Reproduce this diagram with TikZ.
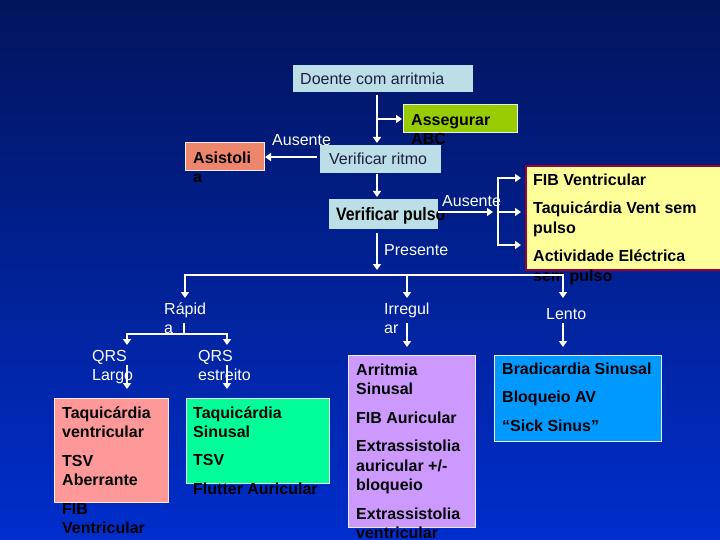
\documentclass[tikz,border=0pt]{standalone}
\usepackage{fontspec}
\usepackage{graphicx}
\setmainfont{Liberation Sans}
\usetikzlibrary{arrows.meta}
\definecolor{bgtop}{RGB}{2,20,92}
\definecolor{bgbot}{RGB}{0,46,204}
\definecolor{lblue}{RGB}{188,222,230}
\definecolor{abcgreen}{RGB}{153,204,0}
\definecolor{salmon}{RGB}{238,134,108}
\definecolor{yel}{RGB}{255,255,153}
\definecolor{yelborder}{RGB}{153,0,51}
\definecolor{pinkfill}{RGB}{255,153,153}
\definecolor{mintfill}{RGB}{0,255,153}
\definecolor{lilacfill}{RGB}{204,153,255}
\definecolor{skyfill}{RGB}{0,153,255}
\definecolor{darktext}{RGB}{30,30,64}
\newcommand{\topstrut}{\rule{0pt}{16pt}}
\begin{document}
\begin{tikzpicture}[x=1pt,y=-1pt,
  boxshape/.style={rectangle, anchor=north west, inner sep=0pt, outer sep=0pt},
  lbox/.style={boxshape, fill=lblue},
  cbox/.style={boxshape, draw=white!85!gray, line width=1pt},
  btext/.style={anchor=north west, inner sep=0pt, align=left, text=black, font=\bfseries\fontsize{16}{19.5}\selectfont},
  wlabel/.style={anchor=north west, inner sep=0pt, align=left, text=white, font=\fontsize{16}{19}\selectfont},
  rtext/.style={anchor=base west, inner sep=0pt, text=darktext, font=\fontsize{16}{19}\selectfont},
  conn/.style={draw=white, line width=2.5pt},
  arr/.style={conn, -{Triangle[length=6pt,width=8pt]}},
  arrs/.style={conn, {Triangle[length=6pt,width=8pt]}-{Triangle[length=6pt,width=8pt]}},
]
\shade[top color=bgtop, bottom color=bgbot] (0,0) rectangle (720,540);
\path[use as bounding box] (0,0) rectangle (720,540);

% top boxes
\node[lbox, minimum width=180pt, minimum height=27pt] (doente) at (293,65) {};
\node[rtext] (tdoente) at (300,85) {Doente com arritmia};

\node[cbox, fill=abcgreen, minimum width=114pt, minimum height=28pt] (abc) at (403,105) {};
\node[btext] (tabc) at (411,109) {\topstrut Assegurar\\ABC};

\node[cbox, fill=salmon, minimum width=79pt, minimum height=28pt] (asis) at (185,143) {};
\node[btext] (tasis) at (193,147) {\topstrut Asistoli\\a};

\node[lbox, minimum width=121pt, minimum height=28pt] (ritmo) at (320,145) {};
\node[rtext] (tritmo) at (329,165) {Verificar ritmo};

\node[lbox, minimum width=109pt, minimum height=30pt] (pulso) at (329,199) {};
\node[anchor=base west, inner sep=0pt, text=black, font=\bfseries\fontsize{18}{20}\selectfont] (tpulso) at (336,221) {\scalebox{0.88}[1]{Verificar pulso}};

\node[boxshape, fill=yel, draw=yelborder, line width=1.5pt, minimum width=200pt, minimum height=104pt] (yellow) at (526,166) {};
\node[btext] (tyellow) at (533,169) {\topstrut FIB Ventricular\\[9pt]Taquicárdia Vent sem\\pulso\\[9pt]Actividade Eléctrica\\sem pulso};

% labels
\node[wlabel] (aus1) at (272,129) {\topstrut Ausente};
\node[wlabel] (aus2) at (442,190) {\topstrut Ausente};
\node[wlabel] (pres) at (384,239) {\topstrut Presente};
\node[wlabel] (rapid) at (164,298) {\topstrut Rápid\\a};
\node[wlabel] (irr) at (384,298) {\topstrut Irregul\\ar};
\node[wlabel] (lento) at (546,303) {\topstrut Lento};
\node[wlabel] (qrsl) at (92,345) {\topstrut QRS\\Largo};
\node[wlabel] (qrse) at (198,345) {\topstrut QRS\\estreito};

% bottom boxes
\node[cbox, fill=pinkfill, minimum width=114pt, minimum height=104pt] (bpink) at (54,398) {};
\node[btext] (tpink) at (62,402) {\topstrut Taquicárdia\\ventricular\\[9pt]TSV\\Aberrante\\[9pt]FIB\\Ventricular};

\node[cbox, fill=mintfill, minimum width=143pt, minimum height=85pt] (bmint) at (186,398) {};
\node[btext] (tmint) at (193,402) {\topstrut Taquicárdia\\Sinusal\\[8pt]TSV\\[9.5pt]Flutter Auricular};

\node[cbox, fill=lilacfill, minimum width=127pt, minimum height=172pt] (blilac) at (348,355) {};
\node[btext] (tlilac) at (356,359) {\topstrut Arritmia\\Sinusal\\[9pt]FIB Auricular\\[9pt]Extrassistolia\\auricular +/-\\bloqueio\\[9pt]Extrassistolia\\ventricular};

\node[cbox, fill=skyfill, minimum width=167pt, minimum height=86pt] (bsky) at (494,355) {};
\node[btext] (tsky) at (502,358) {\topstrut Bradicardia Sinusal\\[9pt]Bloqueio AV\\[9pt]“Sick Sinus”};

% connectors
\coordinate (j1) at (377,119);
\draw[arr, shorten <=3pt, shorten >=2pt] (doente.south -| j1) -- (ritmo.north -| j1);
\draw[arr, shorten >=1pt] (j1) -- (abc.west |- j1);
\draw[arr, shorten <=3pt, shorten >=1pt] (ritmo.west |- asis.east) -- (asis.east);
\draw[arr, shorten <=1pt, shorten >=2pt] (ritmo.south -| j1) -- (pulso.north -| j1);

\coordinate (j2) at (498,212);
\coordinate (b1) at (498,178);
\coordinate (b3) at (498,245);
\draw[arr, shorten >=5pt] (pulso.east |- j2) -- (j2);
\draw[arrs, shorten <=5pt, shorten >=5pt] (b1 -| yellow.west) -- (b1) -- (b3) -- (b3 -| yellow.west);
\draw[arr, shorten >=5pt] (j2) -- (j2 -| yellow.west);

\coordinate (j3) at (377,275);
\draw[arr, shorten <=4pt, shorten >=5pt] (pulso.south -| j3) -- (j3);
\coordinate (h1) at (185,275);
\coordinate (h2) at (407,275);
\coordinate (h3) at (563,275);
\draw[arrs, shorten >=5pt] (h1 |- rapid.north) -- (h1) -- (h3) -- (h3 |- lento.north);
\draw[arr] (h2) -- (h2 |- irr.north);

\coordinate (r0) at (184,323);
\coordinate (k1) at (127,334);
\coordinate (k2) at (227,334);
\draw[conn] (r0) -- (r0 |- k1);
\draw[arrs] (k1 |- qrsl.north) -- (k1) -- (k2) -- (k2 |- qrse.north);
\coordinate (k1s) at (127,365);
\coordinate (k2s) at (227,365);
\draw[arr, shorten >=9pt] (k1s) -- (k1s |- bpink.north);
\draw[arr, shorten >=9pt] (k2s) -- (k2s |- bmint.north);
\coordinate (i1) at (407,323);
\coordinate (l1) at (563,323);
\draw[arr, shorten >=8pt] (i1) -- (i1 |- blilac.north);
\draw[arr, shorten >=8pt] (l1) -- (l1 |- bsky.north);
\end{tikzpicture}
\end{document}
